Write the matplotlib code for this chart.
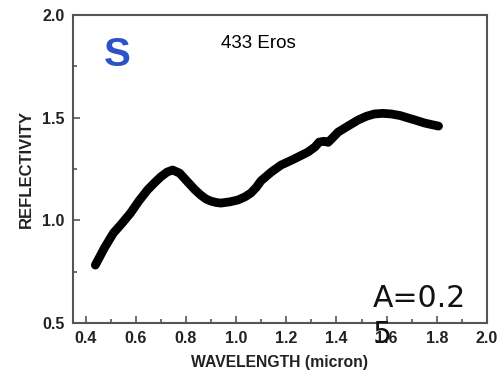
import matplotlib
matplotlib.use("Agg")
import matplotlib.pyplot as plt
from matplotlib.ticker import MultipleLocator

# Spectrum of 433 Eros
wavelength = [0.439, 0.475, 0.511, 0.545, 0.579, 0.613, 0.647, 0.675, 0.699, 0.725,
              0.747, 0.775, 0.807, 0.835, 0.859, 0.880, 0.899, 0.920, 0.939, 0.975,
              1.007, 1.035, 1.059, 1.080, 1.099, 1.140, 1.179, 1.230, 1.287, 1.315,
              1.331, 1.350, 1.367, 1.385, 1.407, 1.450, 1.487, 1.520, 1.551, 1.585,
              1.619, 1.655, 1.687, 1.720, 1.751, 1.780, 1.807]
reflectivity = [0.782, 0.865, 0.938, 0.985, 1.035, 1.095, 1.148, 1.183, 1.211, 1.235,
                1.245, 1.230, 1.187, 1.150, 1.123, 1.104, 1.094, 1.087, 1.084, 1.090,
                1.099, 1.114, 1.133, 1.160, 1.192, 1.235, 1.269, 1.298, 1.333, 1.358,
                1.381, 1.385, 1.380, 1.402, 1.430, 1.462, 1.489, 1.507, 1.518, 1.521,
                1.518, 1.510, 1.498, 1.486, 1.474, 1.466, 1.459]

plt.rcParams['font.family'] = ['Liberation Sans', 'DejaVu Sans']

fig = plt.figure(figsize=(5.01, 3.80), dpi=100)
ax = fig.add_axes([0.1457, 0.15, 0.8263, 0.8105])

ax.plot(wavelength, reflectivity, color="black", linewidth=6.3,
        solid_capstyle="round", solid_joinstyle="round")

ax.set_xlim(0.35, 2.0)
ax.set_ylim(0.5, 2.0)
ax.xaxis.set_major_locator(MultipleLocator(0.2))
ax.xaxis.set_minor_locator(MultipleLocator(0.1))
ax.yaxis.set_major_locator(MultipleLocator(0.5))
ax.yaxis.set_minor_locator(MultipleLocator(0.25))
ax.set_xticks([0.4, 0.6, 0.8, 1.0, 1.2, 1.4, 1.6, 1.8, 2.0])

for s in ax.spines.values():
    s.set_color("#555555")
    s.set_linewidth(1.5)
ax.tick_params(which="both", direction="in", color="#555555", width=1.2)
ax.tick_params(which="major", length=5, labelsize=11.5, pad=6)
ax.tick_params(which="minor", length=3)
for lab in ax.get_xticklabels() + ax.get_yticklabels():
    lab.set_fontweight("bold")
    lab.set_color("#222222")

ax.set_xlabel("WAVELENGTH (micron)", fontsize=11.3, fontweight="bold", color="#222222", labelpad=6)
ax.set_ylabel("REFLECTIVITY", fontsize=12, fontweight="bold", color="#222222", labelpad=6)

ax.text(0.106, 0.87, "S", transform=ax.transAxes, fontsize=29, fontweight="bold",
        color="#2a52c9", ha="center", va="center")
ax.text(0.449, 0.906, "433 Eros", transform=ax.transAxes, fontsize=13.5,
        color="black", ha="center", va="center")
# albedo label wraps onto a second line, as in the original slide
fig.text(373 / 501, 1 - 307 / 380, "A=0.2", fontsize=21.5, color="#111111",
         family=["DejaVu Sans"], ha="left", va="baseline")
fig.text(373 / 501, 1 - 343 / 380, "5", fontsize=21.5, color="#111111",
         family=["DejaVu Sans"], ha="left", va="baseline")

fig.savefig("out.png", dpi=100)
